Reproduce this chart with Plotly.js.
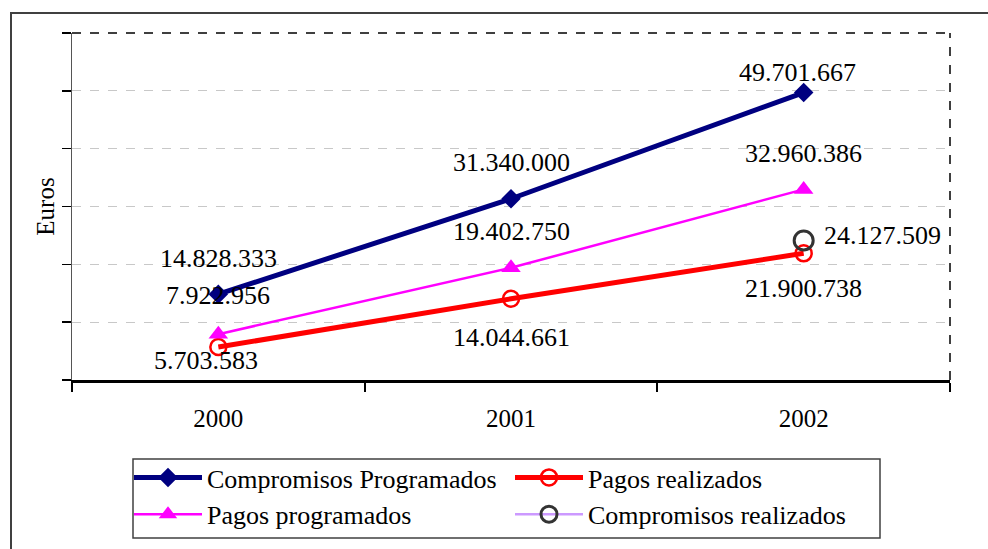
<!DOCTYPE html>
<html>
<head>
<meta charset="utf-8">
<script src="https://cdn.plot.ly/plotly-3.0.1.min.js"></script>
<style>html,body{margin:0;padding:0;background:#fff;}#chart{width:988px;height:549px;}</style>
</head>
<body>
<div id="chart"></div>
<script>
const years = ['2000', '2001', '2002'];
const compromisosProgramados = [14828333, 31340000, 49701667];
const pagosRealizados = [5703583, 14044661, 21900738];
const pagosProgramados = [7922956, 19402750, 32960386];
const compromisosRealizados = [null, null, 24127509];
const seriesNames = ['Compromisos Programados', 'Pagos realizados', 'Pagos programados', 'Compromisos realizados'];
const yTitle = 'Euros';

function fmt(v) {
  return String(Math.round(v)).replace(/\B(?=(\d{3})+(?!\d))/g, '.');
}

const FONT = 'Liberation Serif, Times New Roman, serif';

const traces = [
  {x: years, y: compromisosProgramados, name: seriesNames[0], mode: 'lines+markers',
   line: {color: '#000080', width: 5}, marker: {symbol: 'diamond', size: 15, color: '#000080'}},
  {x: years, y: pagosRealizados, name: seriesNames[1], mode: 'lines+markers',
   line: {color: '#FF0000', width: 5}, marker: {symbol: 'circle-open', size: 16, color: '#FF0000', line: {width: 2.5, color: '#FF0000'}}},
  {x: years, y: pagosProgramados, name: seriesNames[2], mode: 'lines+markers',
   line: {color: '#FF00FF', width: 2.5}, marker: {symbol: 'triangle-up', size: 17, color: '#FF00FF'}},
  {x: years, y: compromisosRealizados, name: seriesNames[3], mode: 'lines+markers',
   line: {color: '#CC99FF', width: 2.5}, marker: {symbol: 'circle-open', size: 19, color: '#333333', line: {width: 3, color: '#333333'}}}
];

// label offsets (pixels) per series / point
const shifts = [
  [[0, 36], [0, 36], [-6, 20]],
  [[-12, -13], [0, -39], [0, -35]],
  [[0, 39], [0, 36], [0, 36]],
  [null, null, [18, 5]]
];
const seriesVals = [compromisosProgramados, pagosRealizados, pagosProgramados, compromisosRealizados];
const annotations = [];
seriesVals.forEach((vals, si) => {
  vals.forEach((v, i) => {
    if (v === null) return;
    const s = shifts[si][i];
    const a = {x: i, y: v, xref: 'x', yref: 'y', text: fmt(v), showarrow: false,
      font: {family: FONT, size: 26, color: '#000'}, xshift: s[0], yshift: s[1]};
    if (si === 3) { a.xanchor = 'left'; }
    annotations.push(a);
  });
});

const L = 72, R = 950, T = 33, B = 380;
const px = (p) => (p - L) / (R - L);
const py = (p) => (B - p) / (B - T);

const layout = {
  width: 988, height: 549,
  margin: {l: L, r: 988 - R, t: T, b: 549 - B, autoexpand: false},
  paper_bgcolor: '#fff', plot_bgcolor: '#fff',
  font: {family: FONT, size: 26, color: '#000'},
  showlegend: true,
  xaxis: {
    type: 'category', range: [-0.5, 2.5], tickson: 'boundaries',
    ticks: 'outside', ticklen: 9, tickwidth: 2, tickcolor: '#000',
    showline: true, linecolor: '#000', linewidth: 3,
    showgrid: false, zeroline: false, fixedrange: true, automargin: false,
    tickfont: {family: FONT, size: 25, color: '#000'}, ticklabelstandoff: 14
  },
  yaxis: {
    range: [0, 60000000], dtick: 10000000, tick0: 0,
    showticklabels: false, ticks: 'outside', ticklen: 9, tickwidth: 1.5, tickcolor: '#000',
    showline: true, linecolor: '#555', linewidth: 1.5,
    showgrid: true, gridcolor: '#c8c8c8', gridwidth: 1, griddash: 'dash',
    zeroline: false, fixedrange: true, automargin: false,
    title: {text: yTitle, font: {family: FONT, size: 25, color: '#000'}, standoff: 0}
  },
  legend: {
    orientation: 'h', x: px(129), y: py(454), xanchor: 'left', yanchor: 'top',
    xref: 'paper', yref: 'paper',
    borderwidth: 0, bgcolor: 'rgba(0,0,0,0)',
    font: {family: FONT, size: 26, color: '#000'},
    itemwidth: 68, entrywidth: 298, tracegroupgap: 0, traceorder: 'normal'
  },
  shapes: [
    {type: 'line', xref: 'paper', yref: 'paper', x0: 0, x1: 1, y0: 1, y1: 1, line: {color: '#000', width: 1.5, dash: 'dash'}},
    {type: 'line', xref: 'paper', yref: 'paper', x0: 1, x1: 1, y0: 0, y1: 1, line: {color: '#000', width: 1.5, dash: 'dash'}},
    {type: 'rect', xref: 'paper', yref: 'paper', x0: px(11), x1: px(1000), y0: py(560), y1: py(13), line: {color: '#404040', width: 2}, fillcolor: 'rgba(0,0,0,0)', layer: 'below'},
    {type: 'rect', xref: 'paper', yref: 'paper', x0: px(133), x1: px(880), y0: py(538), y1: py(459), line: {color: '#404040', width: 1.5}, fillcolor: '#fff', layer: 'below'}
  ],
  annotations: annotations
};

Plotly.newPlot('chart', traces, layout, {staticPlot: true, displayModeBar: false});
</script>
</body>
</html>
